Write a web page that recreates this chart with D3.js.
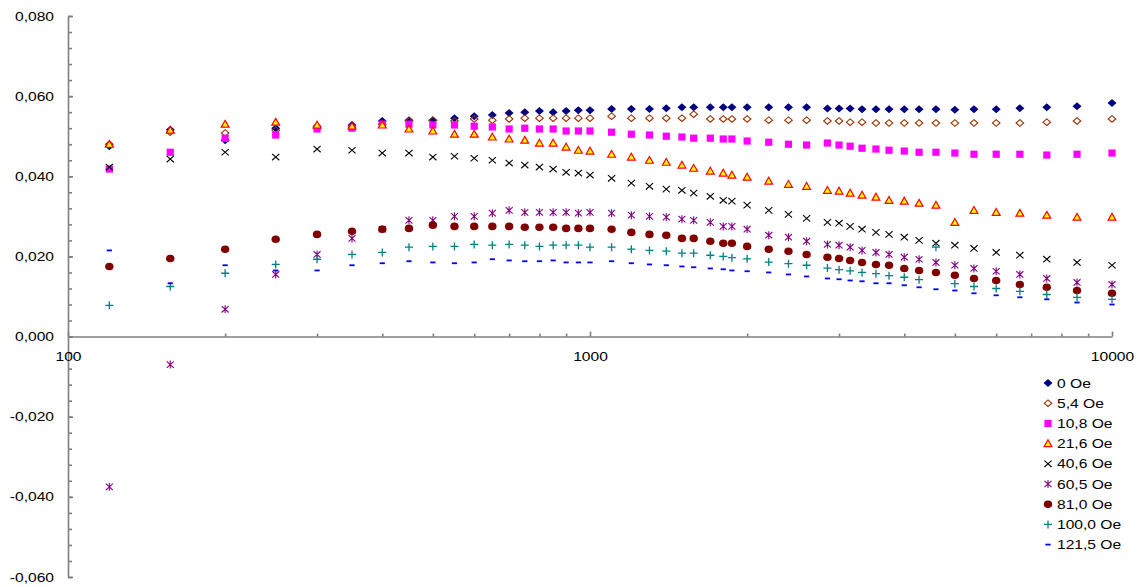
<!DOCTYPE html>
<html>
<head>
<meta charset="utf-8">
<script src="https://cdn.jsdelivr.net/npm/d3@7"></script>
<style>
body { margin: 0; background: #ffffff; }
text { font-family: "Liberation Sans", Arial, sans-serif; fill: #000; }
</style>
</head>
<body>
<svg id="drawing_region"></svg>
<script>
// frequency (x) shared by all series
const freq = [120, 157, 200, 250, 300, 350, 400, 450, 500, 550, 600, 650, 700, 750, 800, 850, 900, 950,
    1000, 1100, 1200, 1300, 1400, 1500, 1580, 1700, 1800, 1870, 2000, 2200, 2400, 2600, 2850, 3000,
    3150, 3320, 3530, 3740, 4000, 4270, 4600, 5000, 5440, 6000, 6660, 7500, 8570, 10000];

const seriesNames = ['0 Oe', '5,4 Oe', '10,8 Oe', '21,6 Oe', '40,6 Oe', '60,5 Oe', '81,0 Oe', '100,0 Oe', '121,5 Oe'];

const oe0 = [0.0475, 0.0516, 0.049, 0.052, 0.0525, 0.0528, 0.0538, 0.054, 0.054, 0.0545, 0.055, 0.0553,
    0.0558, 0.056, 0.0563, 0.056, 0.0563, 0.0565, 0.0565, 0.0568, 0.0568, 0.0568, 0.057, 0.0572, 0.0572,
    0.0572, 0.0572, 0.0572, 0.0572, 0.0572, 0.0572, 0.0572, 0.0569, 0.0569, 0.0569, 0.0567, 0.0567,
    0.0567, 0.0567, 0.0567, 0.0567, 0.0566, 0.0567, 0.0567, 0.057, 0.0572, 0.0575, 0.0583];
const oe5_4 = [0.048, 0.051, 0.0508, 0.0515, 0.052, 0.0523, 0.053, 0.0538, 0.054, 0.0538, 0.0543, 0.054,
    0.0543, 0.0545, 0.0545, 0.0545, 0.0545, 0.0545, 0.0545, 0.055, 0.0545, 0.0545, 0.0545, 0.0545, 0.0555,
    0.0543, 0.0543, 0.0543, 0.0543, 0.054, 0.054, 0.054, 0.0538, 0.0538, 0.0535, 0.0535, 0.0533, 0.0533,
    0.0533, 0.0533, 0.0533, 0.0533, 0.0533, 0.0533, 0.0533, 0.0535, 0.0538, 0.0543];
const oe10_8 = [0.0418, 0.046, 0.0495, 0.0503, 0.0518, 0.052, 0.053, 0.053, 0.0528, 0.0528, 0.0525, 0.0523,
    0.0518, 0.052, 0.0518, 0.0518, 0.0513, 0.0513, 0.0513, 0.051, 0.0505, 0.0503, 0.05, 0.0498, 0.0495,
    0.0495, 0.0493, 0.0493, 0.0488, 0.0485, 0.048, 0.0478, 0.0483, 0.0478, 0.0475, 0.047, 0.0468, 0.0465,
    0.0463, 0.046, 0.046, 0.0458, 0.0455, 0.0455, 0.0455, 0.0453, 0.0455, 0.0458];
const oe21_6 = [0.048, 0.0515, 0.053, 0.0535, 0.0528, 0.0525, 0.0528, 0.0518, 0.0513, 0.0505, 0.0505, 0.0498,
    0.0493, 0.049, 0.0483, 0.0483, 0.0473, 0.0465, 0.0463, 0.0455, 0.0448, 0.044, 0.0435, 0.0428, 0.042,
    0.0413, 0.0408, 0.0403, 0.0398, 0.0388, 0.038, 0.0375, 0.0365, 0.0363, 0.0358, 0.0353, 0.0348, 0.034,
    0.0338, 0.0333, 0.0328, 0.0285, 0.0315, 0.031, 0.0308, 0.0303, 0.0298, 0.0298];
const oe40_6 = [0.0423, 0.0443, 0.046, 0.0448, 0.0468, 0.0465, 0.0458, 0.0458, 0.0448, 0.045, 0.0445, 0.044,
    0.0433, 0.0428, 0.0423, 0.0418, 0.041, 0.0408, 0.0403, 0.0395, 0.0383, 0.0375, 0.0368, 0.0365, 0.0358,
    0.035, 0.034, 0.0338, 0.0328, 0.0315, 0.0305, 0.0295, 0.0285, 0.0283, 0.0275, 0.0268, 0.026, 0.0255,
    0.0248, 0.024, 0.0233, 0.0228, 0.022, 0.021, 0.0203, 0.0193, 0.0185, 0.0178];
const oe60_5 = [-0.0375, -0.007, 0.0068, 0.0155, 0.0205, 0.0245, 0.0268, 0.029, 0.029, 0.03, 0.03, 0.0308,
    0.0315, 0.031, 0.031, 0.031, 0.031, 0.0308, 0.031, 0.0308, 0.0303, 0.03, 0.0298, 0.0293, 0.029,
    0.0285, 0.0275, 0.0275, 0.0268, 0.0253, 0.0248, 0.0238, 0.023, 0.0228, 0.0223, 0.0215, 0.021, 0.0205,
    0.0198, 0.0193, 0.0185, 0.0178, 0.017, 0.0163, 0.0155, 0.0145, 0.0135, 0.013];
const oe81_0 = [0.0175, 0.0195, 0.0218, 0.0243, 0.0255, 0.0263, 0.0268, 0.027, 0.0278, 0.0275, 0.0275, 0.0275,
    0.0275, 0.0273, 0.0273, 0.0273, 0.027, 0.027, 0.027, 0.0268, 0.026, 0.0255, 0.0253, 0.0245, 0.0245,
    0.0238, 0.0233, 0.0233, 0.0225, 0.0218, 0.0213, 0.0205, 0.0198, 0.0195, 0.019, 0.0185, 0.018, 0.0178,
    0.017, 0.0165, 0.016, 0.0153, 0.0145, 0.014, 0.013, 0.0123, 0.0115, 0.0108];
const oe100_0 = [0.0078, 0.0125, 0.0158, 0.018, 0.0193, 0.0205, 0.021, 0.0223, 0.0225, 0.0225, 0.023, 0.0228,
    0.023, 0.0228, 0.0225, 0.0228, 0.0228, 0.0228, 0.0223, 0.0223, 0.0218, 0.0215, 0.0213, 0.0208, 0.0208,
    0.0203, 0.02, 0.0197, 0.0194, 0.0186, 0.0182, 0.0178, 0.0171, 0.0167, 0.0164, 0.016, 0.0157, 0.0152,
    0.0148, 0.0142, 0.0223, 0.0132, 0.0125, 0.012, 0.0113, 0.0105, 0.0098, 0.0093];
const oe121_5 = [0.0215, 0.0133, 0.0178, 0.0165, 0.0165, 0.0178, 0.0183, 0.0188, 0.0185, 0.0183, 0.0185, 0.0193,
    0.019, 0.0188, 0.0188, 0.019, 0.0185, 0.0185, 0.0185, 0.0188, 0.0183, 0.018, 0.0178, 0.0175, 0.0173,
    0.017, 0.0168, 0.0165, 0.0163, 0.016, 0.0155, 0.015, 0.0145, 0.0143, 0.014, 0.0138, 0.0133, 0.0133,
    0.0128, 0.0123, 0.0118, 0.0115, 0.0108, 0.0103, 0.0098, 0.0093, 0.0085, 0.008];

const yMajorTicks = [-0.06, -0.04, -0.02, 0, 0.02, 0.04, 0.06, 0.08];
const xMajorTicks = [100, 1000, 10000];

const seriesValues = [oe0, oe5_4, oe10_8, oe21_6, oe40_6, oe60_5, oe81_0, oe100_0, oe121_5];

// marker look for each series, same order as seriesNames
const markers = [
    { d: 'M0,-4L4.5,0L0,4L-4.5,0Z', fill: '#000080', stroke: 'none', sw: 0 },
    { d: 'M0,-3.3L3.8,0L0,3.3L-3.8,0Z', fill: 'none', stroke: '#993300', sw: 1.1 },
    { d: 'M-3.6,-3.6H3.6V3.6H-3.6Z', fill: '#ff00ff', stroke: 'none', sw: 0 },
    { d: 'M0,-3.8L3.9,3L-3.9,3Z', fill: '#ffff00', stroke: '#ff0000', sw: 1.2 },
    { d: 'M-3.6,-3.2L3.6,3.2M-3.6,3.2L3.6,-3.2', fill: 'none', stroke: '#000000', sw: 1.1 },
    { d: 'M-3.5,-3.2L3.5,3.2M-3.5,3.2L3.5,-3.2M0,-4V4', fill: 'none', stroke: '#800080', sw: 1.1 },
    { d: 'M-4.2,0A4.2,3.8 0 1,0 4.2,0A4.2,3.8 0 1,0 -4.2,0Z', fill: '#800000', stroke: 'none', sw: 0 },
    { d: 'M-4,0H4M0,-4V4', fill: 'none', stroke: '#008080', sw: 1.3 },
    { d: 'M-2.6,-0.9H2.6V0.9H-2.6Z', fill: '#0000ff', stroke: 'none', sw: 0 }
];

const fmtLocale = d3.formatLocale({ decimal: ',', thousands: '.', grouping: [3], currency: ['', ''], minus: '-' });
const yFormat = fmtLocale.format('.3f');

class ScatterChart {

    constructor(config, series) {
        this.config = config;
        this.series = series;
        this.init();
    }

    init() {
        let self = this;
        let c = self.config;

        self.svg = d3.select(c.parent)
            .attr('width', c.width)
            .attr('height', c.height);

        self.xscale = d3.scaleLog()
            .domain([100, 10000])
            .range([c.plot.left, c.plot.right]);

        self.yscale = d3.scaleLinear()
            .domain([-0.06, 0.08])
            .range([c.plot.bottom, c.plot.top]);

        // minor ticks first so the major ones sit on top
        let yMinor = d3.range(-0.06, 0.0801, 0.004);
        self.svg.append('g')
            .attr('transform', `translate(${c.plot.left}, 0)`)
            .call(d3.axisLeft(self.yscale).tickValues(yMinor).tickSize(-4).tickFormat(''))
            .call(g => g.select('.domain').remove());

        self.yaxis_group = self.svg.append('g')
            .attr('transform', `translate(${c.plot.left}, 0)`)
            .call(d3.axisLeft(self.yscale)
                .tickValues(yMajorTicks)
                .tickSizeInner(-5).tickSizeOuter(0)
                .tickPadding(14)
                .tickFormat(yFormat));

        let xMinor = [];
        [100, 1000].forEach(b => { for (let k = 2; k <= 9; k++) xMinor.push(b * k); });
        let y0 = self.yscale(0);
        self.svg.append('g')
            .attr('transform', `translate(0, ${y0})`)
            .call(d3.axisBottom(self.xscale).tickValues(xMinor).tickSize(-3).tickFormat(''))
            .call(g => g.select('.domain').remove());

        self.xaxis_group = self.svg.append('g')
            .attr('transform', `translate(0, ${y0})`)
            .call(d3.axisBottom(self.xscale)
                .tickValues(xMajorTicks)
                .tickSizeInner(-5).tickSizeOuter(0)
                .tickPadding(16)
                .tickFormat(d3.format('d')));

        self.svg.selectAll('.tick line, .domain')
            .attr('stroke', '#7f7f7f')
            .attr('stroke-width', 1.6);

        // the original text is a bit wider than Arial
        self.yaxis_group.selectAll('text')
            .style('font-size', c.fontSize)
            .attr('x', -14 / c.stretch)
            .attr('transform', `scale(${c.stretch},1)`);
        self.xaxis_group.selectAll('text')
            .style('font-size', c.fontSize)
            .attr('transform', `scale(${c.stretch},1)`);
    }

    render() {
        let self = this;
        let c = self.config;

        self.series.forEach((s, si) => {
            let m = markers[si];
            self.svg.append('g')
                .selectAll('path')
                .data(freq.map((f, i) => ({ x: f, y: s.values[i] })))
                .join('path')
                .attr('transform', d => `translate(${self.xscale(d.x)}, ${self.yscale(d.y)})`)
                .attr('d', m.d)
                .attr('fill', m.fill)
                .attr('stroke', m.stroke)
                .attr('stroke-width', m.sw);
        });

        let legend = self.svg.append('g')
            .attr('transform', `translate(${c.legend.x}, ${c.legend.y})`);

        let rows = legend.selectAll('g')
            .data(self.series)
            .join('g')
            .attr('transform', (d, i) => `translate(0, ${i * c.legend.row})`);

        rows.append('path')
            .attr('d', (d, i) => markers[i].d)
            .attr('fill', (d, i) => markers[i].fill)
            .attr('stroke', (d, i) => markers[i].stroke)
            .attr('stroke-width', (d, i) => markers[i].sw);

        rows.append('text')
            .attr('x', 9 / c.stretch)
            .attr('dy', '0.36em')
            .attr('transform', `scale(${c.stretch},1)`)
            .style('font-size', c.fontSize)
            .text(d => d.name);
    }
}

const config = {
    parent: '#drawing_region',
    width: 1144,
    height: 587,
    plot: { left: 68, right: 1112, top: 16, bottom: 577 },
    legend: { x: 1048, y: 383, row: 20.2 },
    fontSize: '12.5px',
    stretch: 1.25
};

const series = seriesNames.map((name, i) => ({ name: name, values: seriesValues[i] }));
const chart = new ScatterChart(config, series);
chart.render();
</script>
</body>
</html>
